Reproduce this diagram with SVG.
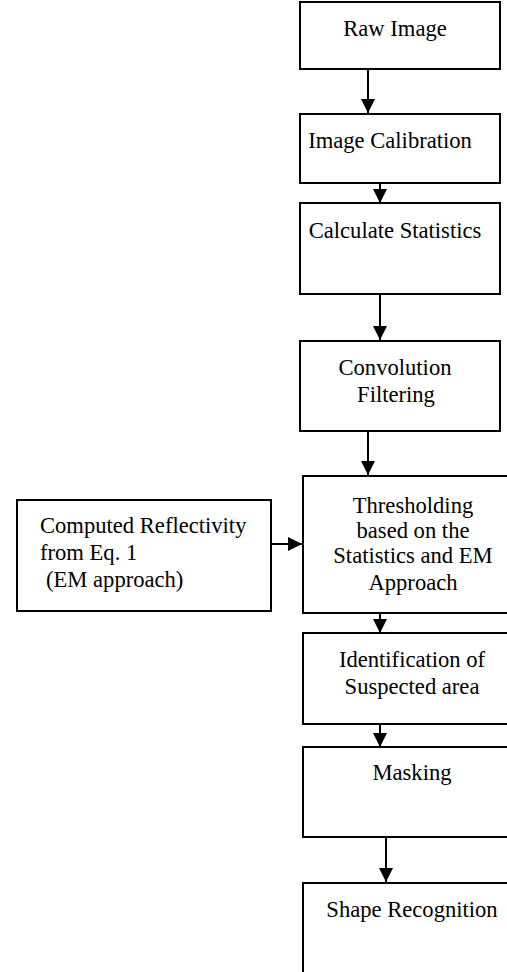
<svg xmlns="http://www.w3.org/2000/svg" width="507" height="972" viewBox="0 0 507 972">
<style>
.box{fill:#fff;stroke:#000;stroke-width:2}
.t{font-family:"Liberation Serif","Times New Roman",serif;font-size:22.6px;fill:#000}
.c{text-anchor:middle}
.con line{stroke:#000;stroke-width:2}
</style>
<defs>
<marker id="ah" markerUnits="userSpaceOnUse" markerWidth="14" markerHeight="14" refX="14" refY="7" orient="auto" viewBox="0 0 14 14">
<path d="M0,0 L14,7 L0,14 Z" fill="#000"/>
</marker>
</defs>
<rect width="507" height="972" fill="#fff"/>
<g id="raw"><rect class="box" x="300" y="2" width="200" height="67"/><text class="t c" x="395" y="36">Raw Image</text></g>
<g id="calib"><rect class="box" x="300" y="114" width="200" height="69"/><text class="t c" x="390" y="148">Image Calibration</text></g>
<g id="stats"><rect class="box" x="300" y="203" width="200" height="91"/><text class="t c" x="395" y="238">Calculate Statistics</text></g>
<g id="conv"><rect class="box" x="300" y="341" width="200" height="90"/><text class="t c" x="395" y="375">Convolution</text><text class="t c" x="396" y="402">Filtering</text></g>
<g id="thresh"><rect class="box" x="303" y="476" width="220" height="137"/><text class="t c" x="413" y="513">Thresholding</text><text class="t c" x="413" y="538">based on the</text><text class="t c" x="413" y="563">Statistics and EM</text><text class="t c" x="413" y="590">Approach</text></g>
<g id="refl"><rect class="box" x="17" y="500" width="254" height="111"/><text class="t" x="40" y="533">Computed Reflectivity</text><text class="t" x="40" y="560">from Eq. 1</text><text class="t" x="46" y="587">(EM approach)</text></g>
<g id="ident"><rect class="box" x="303" y="633" width="220" height="91"/><text class="t c" x="412" y="667">Identification of</text><text class="t c" x="412" y="694">Suspected area</text></g>
<g id="mask"><rect class="box" x="303" y="747" width="220" height="90"/><text class="t c" x="412" y="780">Masking</text></g>
<g id="shape"><rect class="box" x="303" y="883" width="220" height="110"/><text class="t c" x="412" y="917">Shape Recognition</text></g>
<g id="connectors" class="con">
<line x1="368" y1="69" x2="368" y2="113" marker-end="url(#ah)"/>
<line x1="380" y1="183" x2="380" y2="203" marker-end="url(#ah)"/>
<line x1="380" y1="294" x2="380" y2="340" marker-end="url(#ah)"/>
<line x1="368" y1="431" x2="368" y2="475" marker-end="url(#ah)"/>
<line x1="271" y1="544" x2="302" y2="544" marker-end="url(#ah)"/>
<line x1="380" y1="613" x2="380" y2="633" marker-end="url(#ah)"/>
<line x1="380" y1="724" x2="380" y2="747" marker-end="url(#ah)"/>
<line x1="386" y1="837" x2="386" y2="882" marker-end="url(#ah)"/>
</g>
</svg>
